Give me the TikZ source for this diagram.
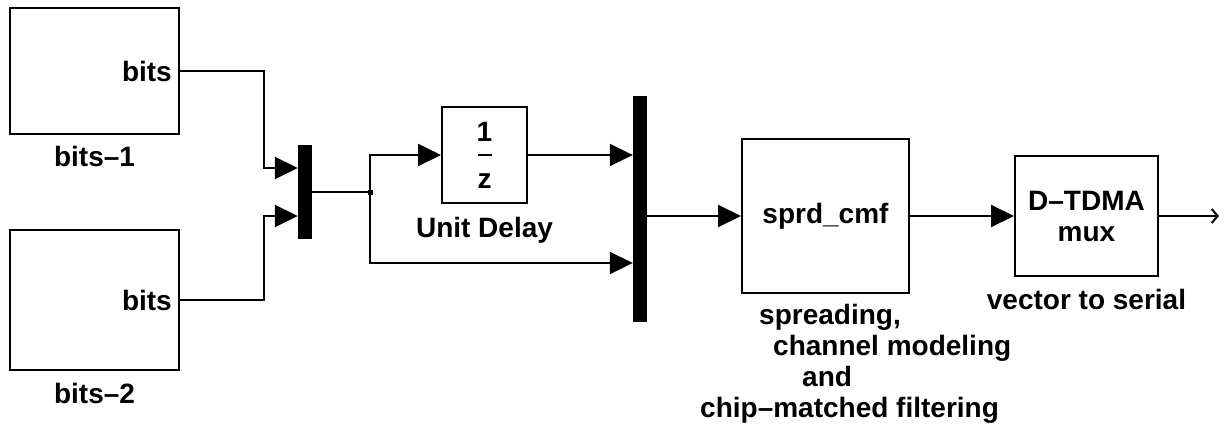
\documentclass[tikz,border=0pt]{standalone}
\usepackage{fontspec}
\setmainfont{Liberation Sans}
\usetikzlibrary{arrows.meta,positioning}

\tikzset{
  blk/.style={draw, line width=2bp, inner sep=0pt, font=\bfseries\fontsize{28bp}{31bp}\selectfont},
  bar/.style={fill=black, inner sep=0pt, minimum width=14bp},
  lbl/.style={inner sep=0pt, font=\bfseries\fontsize{28bp}{31bp}\selectfont},
  sig/.style={line width=2bp, ->},
}

\begin{document}
\begin{tikzpicture}[x=1bp, y=-1bp, >={Triangle[length=23bp,width=22bp]}, line join=miter]
    \useasboundingbox (0,0) rectangle (1228,426);

    % --- FUENTES ---
    \node[blk, minimum width=169bp, minimum height=126bp] (bits1) at (94.5,71) {};
    \node[blk, minimum width=169bp, minimum height=140bp] (bits2) at (94.5,300) {};
    \node[lbl, anchor=east] (port1) at ([xshift=-8bp]bits1.east) {bits};
    \node[lbl, anchor=east] (port2) at ([xshift=-8bp]bits2.east) {bits};
    \node[lbl, below=11bp of bits1] (bits1lbl) {bits–1};
    \node[lbl, below=12bp of bits2] (bits2lbl) {bits–2};

    % --- MUX Y RETARDO ---
    \node[bar, minimum height=94bp] (mux1) at (305,192) {};
    \node[blk, minimum width=85bp, minimum height=96bp, align=center] (delay) at (484.5,155) {1\\[16bp]z};
    \draw[line width=2bp] ([xshift=-7bp]delay.center) -- ([xshift=7bp]delay.center);
    \node[lbl, below=13bp of delay] (delaylbl) {Unit Delay};
    \node[bar, minimum height=226bp] (mux2) at (640,209) {};

    % --- CANAL Y SALIDA ---
    \node[blk, minimum width=167bp, minimum height=154bp] (sprd) at (825.5,216) {sprd\_cmf};
    \node[lbl, align=left, anchor=north west] (sprdlbl) at (700,304)
        {\hspace*{59bp}spreading,\\ \hspace*{73bp}channel modeling\\ \hspace*{102bp}and\\ chip–matched filtering};
    \node[blk, minimum width=143bp, minimum height=120bp, align=center] (dtdma) at (1086.5,216) {D–TDMA\\mux};
    \node[lbl, below=12bp of dtdma] (dtdmalbl) {vector to serial};
    \coordinate (out) at (1219,216);

    % --- SEÑALES ---
    \draw[sig] (bits1.east) -- ++(84,0) |- ([yshift=24bp]mux1.west);
    \draw[sig] (bits2.east) -- ++(84,0) |- ([yshift=-24bp]mux1.west);
    \coordinate (br) at (370,192);
    \draw[line width=2bp] (mux1.east) -- (br);
    \node[fill=black, inner sep=0pt, minimum size=5bp] (dot) at (br) {};
    \draw[sig] (dot.center) |- (delay.west);
    \draw[sig] (dot.center) |- ([yshift=-54bp]mux2.west);
    \draw[sig] (delay.east) -- (delay.east -| mux2.west);
    \draw[sig] (mux2.east |- sprd.west) -- (sprd.west);
    \draw[sig] (sprd.east) -- (dtdma.west);
    \draw[line width=2bp, -{Straight Barb[length=6bp,width=14bp]}] (dtdma.east) -- (out);

\end{tikzpicture}
\end{document}
